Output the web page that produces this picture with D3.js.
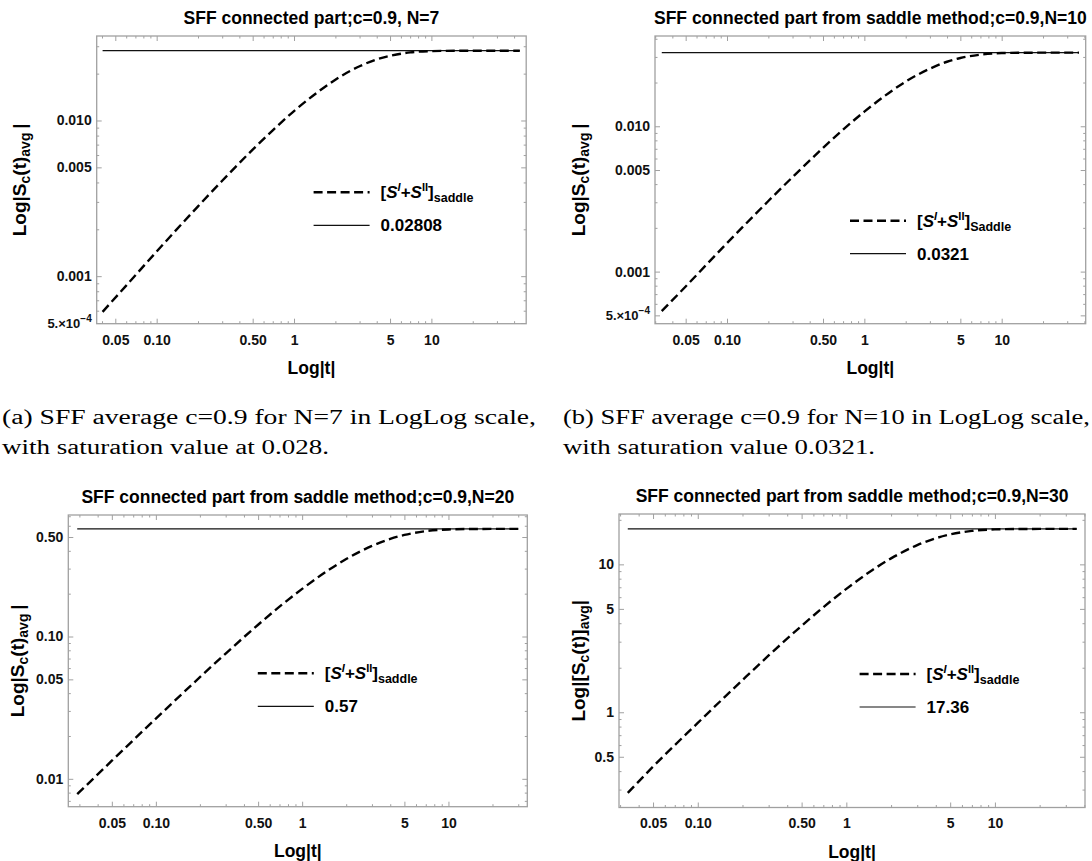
<!DOCTYPE html>
<html>
<head>
<meta charset="utf-8">
<script src="https://cdn.jsdelivr.net/npm/d3@7"></script>
<style>
  body { margin: 0; background: #fff; }
  svg { display: block; }
  .sans { font-family: "Liberation Sans", Arial, sans-serif; font-weight: bold; }
  .serif { font-family: "Liberation Serif", "Times New Roman", serif; }
</style>
</head>
<body>
<svg id="fig" width="1092" height="861"></svg>
<script>
// ---- values ----

// (a) c=0.9, N=7
const tA = [0.0404, 0.06, 0.1, 0.2, 0.3, 0.5, 0.7, 1, 1.5, 2, 3, 4, 5, 7, 10, 15, 20, 30, 44];
const sA = [5.9e-4, 8.7e-4, 0.00144, 0.00281, 0.0041, 0.0065, 0.00865, 0.0115, 0.0153, 0.0183,
            0.0223, 0.0247, 0.0260, 0.0274, 0.0279, 0.02806, 0.02808, 0.02808, 0.02808];
const satA = 0.02808;

// (b) c=0.9, N=10
const tB = [0.0335, 0.05, 0.1, 0.2, 0.3, 0.5, 0.7, 1, 1.5, 2, 3, 4, 5, 7, 10, 15, 20, 36.5];
const sB = [5.35e-4, 7.9e-4, 0.00157, 0.00306, 0.00447, 0.0071, 0.00948, 0.0126, 0.0169, 0.0203,
            0.0249, 0.0278, 0.0295, 0.0311, 0.0319, 0.03208, 0.0321, 0.0321];
const satB = 0.0321;

// (c) c=0.9, N=20
const tC = [0.029, 0.05, 0.1, 0.2, 0.3, 0.5, 0.7, 1, 1.5, 2, 3, 4, 5, 7, 10, 15, 20, 30];
const sC = [0.0078, 0.0134, 0.0265, 0.0518, 0.0759, 0.121, 0.162, 0.216, 0.291, 0.350,
            0.433, 0.485, 0.517, 0.550, 0.565, 0.5695, 0.57, 0.57];
const satC = 0.57;

// (d) c=0.9, N=30
const tD = [0.0338, 0.05, 0.1, 0.2, 0.3, 0.5, 0.7, 1, 1.5, 2, 3, 4, 5, 7, 10, 15, 20, 35.5];
const sD = [0.285, 0.429, 0.847, 1.65, 2.42, 3.84, 5.13, 6.83, 9.16, 10.97,
            13.49, 15.01, 15.93, 16.84, 17.24, 17.35, 17.36, 17.36];
const satD = 17.36;

// axis ranges
const xDomA = [0.0366, 49],   yDomA = [4.95e-4, 0.0349];
const xDomB = [0.0299, 40.9], yDomB = [4.38e-4, 0.0418];
const xDomC = [0.0252, 34.6], yDomC = [0.00637, 0.714];
const xDomD = [0.0295, 40.4], yDomD = [0.227, 21.9];

// tick labels
const xTickLabels = [[0.05, '0.05'], [0.1, '0.10'], [0.5, '0.50'], [1, '1'], [5, '5'], [10, '10']];
const yTicksAB = [[5e-4, '5.×10^−4'], [0.001, '0.001'], [0.005, '0.005'], [0.01, '0.010']];
const yTicksC = [[0.01, '0.01'], [0.05, '0.05'], [0.1, '0.10'], [0.5, '0.50']];
const yTicksD = [[0.5, '0.5'], [1, '1'], [5, '5'], [10, '10']];

const titles = [
  'SFF connected part;c=0.9, N=7',
  'SFF connected part from saddle method;c=0.9,N=10',
  'SFF connected part from saddle method;c=0.9,N=20',
  'SFF connected part from saddle method;c=0.9,N=30'
];
const legendSub = ['saddle', 'Saddle', 'saddle', 'saddle'];
const legendSat = ['0.02808', '0.0321', '0.57', '17.36'];
const captionA = ['(a) SFF average c=0.9 for N=7 in LogLog scale,', 'with saturation value at 0.028.'];
const captionB = ['(b) SFF average c=0.9 for N=10 in LogLog scale,', 'with saturation value 0.0321.'];

// ---- layout ----
const panels = [
  { t: tA, s: sA, sat: satA, xDom: xDomA, yDom: yDomA, yTicks: yTicksAB, title: titles[0],
    sub: legendSub[0], satLabel: legendSat[0], bracket: false,
    left: 96.7, right: 526.2, top: 36, bottom: 323.7, yLabX: 19, legX: 313.6, legY: 192.3 },
  { t: tB, s: sB, sat: satB, xDom: xDomB, yDom: yDomB, yTicks: yTicksAB, title: titles[1],
    sub: legendSub[1], satLabel: legendSat[1], bracket: false,
    left: 655, right: 1085.7, top: 36, bottom: 323.7, yLabX: 578, legX: 850, legY: 220.7 },
  { t: tC, s: sC, sat: satC, xDom: xDomC, yDom: yDomC, yTicks: yTicksC, title: titles[2],
    sub: legendSub[2], satLabel: legendSat[2], bracket: false,
    left: 68.3, right: 527.3, top: 515, bottom: 806.7, yLabX: 17, legX: 257.8, legY: 673.3 },
  { t: tD, s: sD, sat: satD, xDom: xDomD, yDom: yDomD, yTicks: yTicksD, title: titles[3],
    sub: legendSub[3], satLabel: legendSat[3], bracket: true,
    left: 619, right: 1085, top: 514, bottom: 807.5, yLabX: 578, legX: 859.6, legY: 674 }
];

const svg = d3.select('#fig');
const FRAME = '#a0a0a0';

function logTicks(dom, mults) {
  const out = [];
  const k0 = Math.floor(Math.log10(dom[0])), k1 = Math.ceil(Math.log10(dom[1]));
  for (let k = k0; k <= k1; k++) {
    for (const m of mults) {
      const v = +(m * Math.pow(10, k)).toPrecision(6);
      if (v >= dom[0] * 0.999 && v <= dom[1] * 1.001) out.push(v);
    }
  }
  return out;
}

function styleAxis(sel) {
  sel.select('.domain').remove();
  sel.selectAll('.tick line').attr('stroke', FRAME).attr('stroke-width', 1);
  sel.selectAll('.tick text')
    .attr('class', 'sans')
    .attr('fill', '#111')
    .style('font-size', '14px');
}

function drawPanel(p) {
  const g = svg.append('g');
  const x = d3.scaleLog().domain(p.xDom).range([p.left, p.right]);
  const y = d3.scaleLog().domain(p.yDom).range([p.bottom, p.top]);

  const xMajor = logTicks(p.xDom, [1, 5]);
  const xMinor = logTicks(p.xDom, [2, 3, 4, 6, 7, 8, 9]);
  const yMajor = logTicks(p.yDom, [1, 5]);
  const yMinor = logTicks(p.yDom, [2, 3, 4, 6, 7, 8, 9]);
  const xLab = new Map(xTickLabels);
  const yLab = new Map(p.yTicks);

  // frame
  g.append('rect')
    .attr('x', p.left).attr('y', p.top)
    .attr('width', p.right - p.left).attr('height', p.bottom - p.top)
    .attr('fill', 'none').attr('stroke', FRAME).attr('stroke-width', 1.3);

  // bottom ticks with labels
  g.append('g').attr('transform', `translate(0,${p.bottom})`)
    .call(d3.axisBottom(x).tickValues(xMajor).tickSize(-5).tickPadding(11)
      .tickFormat(d => xLab.get(+d.toPrecision(6)) || ''))
    .call(styleAxis);
  g.append('g').attr('transform', `translate(0,${p.bottom})`)
    .call(d3.axisBottom(x).tickValues(xMinor).tickSize(-2.5).tickFormat(''))
    .call(styleAxis);
  // top mirror
  g.append('g').attr('transform', `translate(0,${p.top})`)
    .call(d3.axisTop(x).tickValues(xMajor).tickSize(-5).tickFormat(''))
    .call(styleAxis);
  g.append('g').attr('transform', `translate(0,${p.top})`)
    .call(d3.axisTop(x).tickValues(xMinor).tickSize(-2.5).tickFormat(''))
    .call(styleAxis);

  // left ticks with labels
  const yAx = g.append('g').attr('transform', `translate(${p.left},0)`)
    .call(d3.axisLeft(y).tickValues(yMajor).tickSize(-5).tickPadding(5)
      .tickFormat(d => yLab.get(+d.toPrecision(6)) || ''))
    .call(styleAxis);
  // labels with a power of ten
  yAx.selectAll('.tick text').each(function () {
    const el = d3.select(this);
    const txt = el.text();
    if (txt.includes('^')) {
      const [base, pow] = txt.split('^');
      el.text(null);
      el.append('tspan').style('font-size', '13px').text(base);
      el.append('tspan').attr('dy', '-6').style('font-size', '10px').text(pow);
    }
  });
  g.append('g').attr('transform', `translate(${p.left},0)`)
    .call(d3.axisLeft(y).tickValues(yMinor).tickSize(-2.5).tickFormat(''))
    .call(styleAxis);
  // right mirror
  g.append('g').attr('transform', `translate(${p.right},0)`)
    .call(d3.axisRight(y).tickValues(yMajor).tickSize(-5).tickFormat(''))
    .call(styleAxis);
  g.append('g').attr('transform', `translate(${p.right},0)`)
    .call(d3.axisRight(y).tickValues(yMinor).tickSize(-2.5).tickFormat(''))
    .call(styleAxis);

  // saturation line
  const tEnds = [p.t[0], p.t[p.t.length - 1]];
  g.append('line')
    .attr('x1', x(tEnds[0])).attr('x2', x(tEnds[1]))
    .attr('y1', y(p.sat)).attr('y2', y(p.sat))
    .attr('stroke', '#111').attr('stroke-width', 1.3);

  // saddle curve
  const pts = p.t.map((t, i) => [t, p.s[i]]);
  g.append('path')
    .datum(pts)
    .attr('fill', 'none')
    .attr('stroke', '#000')
    .attr('stroke-width', 2.4)
    .attr('stroke-dasharray', '9,4.5')
    .attr('d', d3.line().x(d => x(d[0])).y(d => y(d[1])).curve(d3.curveMonotoneX));

  // title
  g.append('text').attr('class', 'sans')
    .attr('x', (p.left + p.right) / 2).attr('y', p.top - 12)
    .attr('text-anchor', 'middle').style('font-size', '17.5px')
    .text(p.title);

  // x label
  g.append('text').attr('class', 'sans')
    .attr('x', (p.left + p.right) / 2).attr('y', p.bottom + 50)
    .attr('text-anchor', 'middle').style('font-size', '17.5px')
    .text('Log|t|');

  // y label
  const yl = g.append('text').attr('class', 'sans')
    .attr('transform', `translate(${p.yLabX + 7},${(p.top + p.bottom) / 2}) rotate(-90)`)
    .attr('text-anchor', 'middle').style('font-size', '19px');
  yl.append('tspan').text(p.bracket ? 'Log|[S' : 'Log|S');
  yl.append('tspan').attr('dy', 4).style('font-size', '14px').text('c');
  yl.append('tspan').attr('dy', -4).text(p.bracket ? '(t)]' : '(t)');
  yl.append('tspan').attr('dy', 4).style('font-size', '14px').text('avg');
  yl.append('tspan').attr('dy', -4).text(p.bracket ? '|' : '\u2009|');

  // legend
  const lg = g.append('g');
  lg.append('line')
    .attr('x1', p.legX).attr('x2', p.legX + 56)
    .attr('y1', p.legY).attr('y2', p.legY)
    .attr('stroke', '#000').attr('stroke-width', 2.4).attr('stroke-dasharray', '9,4.5');
  lg.append('line')
    .attr('x1', p.legX).attr('x2', p.legX + 56)
    .attr('y1', p.legY + 33).attr('y2', p.legY + 33)
    .attr('stroke', '#111').attr('stroke-width', 1.2);
  const lt = lg.append('text').attr('class', 'sans')
    .attr('x', p.legX + 67).attr('y', p.legY + 6).style('font-size', '17px');
  lt.append('tspan').text('[');
  lt.append('tspan').style('font-style', 'italic').text('S');
  lt.append('tspan').attr('dy', -7).style('font-size', '11px').style('font-style', 'italic').text('I');
  lt.append('tspan').attr('dy', 7).text('+');
  lt.append('tspan').style('font-style', 'italic').text('S');
  lt.append('tspan').attr('dy', -7).style('font-size', '11px').text('II');
  lt.append('tspan').attr('dy', 7).text(']');
  lt.append('tspan').attr('dy', 4).style('font-size', '12.5px').text(p.sub);
  lg.append('text').attr('class', 'sans')
    .attr('x', p.legX + 67).attr('y', p.legY + 39).style('font-size', '17px')
    .text(p.satLabel);
}

panels.forEach(drawPanel);

// captions
function caption(lines, x0, x1a, x1b) {
  svg.append('text').attr('class', 'serif')
    .attr('x', x0).attr('y', 424).style('font-size', '20px')
    .attr('textLength', x1a - x0).attr('lengthAdjust', 'spacingAndGlyphs')
    .text(lines[0]);
  svg.append('text').attr('class', 'serif')
    .attr('x', x0).attr('y', 454).style('font-size', '20px')
    .attr('textLength', x1b - x0).attr('lengthAdjust', 'spacingAndGlyphs')
    .text(lines[1]);
}
caption(captionA, 2, 536, 329);
caption(captionB, 563, 1090, 875);
</script>
</body>
</html>
